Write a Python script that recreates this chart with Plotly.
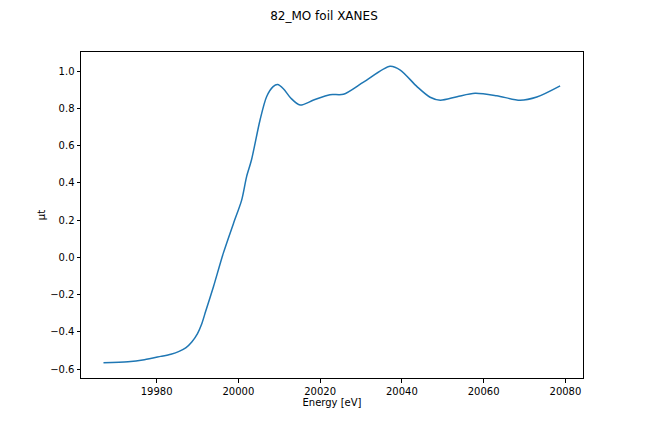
import plotly.graph_objects as go

energy = [19967.0, 19973.0, 19977.0, 19981.0, 19983.5, 19985.5, 19987.2, 19988.6, 19990.0,
          19991.0, 19992.0, 19993.9, 19996.3, 19998.8, 20000.8, 20002.0, 20003.2, 20005.3,
          20006.9, 20008.5, 20009.6, 20011.0, 20012.8, 20015.1, 20018.4, 20022.4,
          20025.7, 20030.6, 20037.1, 20039.6, 20043.7, 20046.9, 20049.4, 20053.5,
          20057.9, 20063.2, 20068.9, 20073.0, 20078.7]
mu_t = [-0.566, -0.561, -0.550, -0.532, -0.520, -0.505, -0.485, -0.455, -0.410,
        -0.360, -0.290, -0.158, 0.021, 0.182, 0.307, 0.432, 0.522, 0.737,
        0.862, 0.916, 0.927, 0.905, 0.855, 0.817, 0.844, 0.873,
        0.875, 0.940, 1.025, 1.005, 0.916, 0.859, 0.843, 0.862,
        0.880, 0.867, 0.843, 0.860, 0.920]

x_ticks = [19980, 20000, 20020, 20040, 20060, 20080]
y_ticks = [-0.6, -0.4, -0.2, 0.0, 0.2, 0.4, 0.6, 0.8, 1.0]

fig = go.Figure()
fig.add_trace(go.Scatter(x=energy, y=mu_t, mode="lines",
                         line=dict(color="#1f77b4", width=1.5, shape="spline", smoothing=0.8),
                         showlegend=False))

font = dict(family="DejaVu Sans", size=10, color="black")
axis_common = dict(showline=True, linecolor="black", linewidth=1, mirror=True,
                   ticks="outside", ticklen=3.5, tickcolor="black", tickwidth=1,
                   showgrid=False, zeroline=False, tickfont=font)

# page body has an 8px default margin; compensate so the plot lands where the reference has it
fig.update_layout(
    width=648, height=432,
    paper_bgcolor="white", plot_bgcolor="white",
    margin=dict(l=73, r=73, t=44, b=62),
    title=dict(text="82_MO foil XANES", x=(324 - 8) / 648, xanchor="center",
               y=1 - 8 / 432, yanchor="middle",
               font=dict(family="DejaVu Sans", size=12, color="black")),
    xaxis=dict(range=[19961.5, 20084.3], tickvals=x_ticks, tickformat="d",
               title=dict(text="Energy [eV]", font=font, standoff=3), **axis_common),
    yaxis=dict(range=[-0.648, 1.102], tickvals=y_ticks, tickformat=".1f",
               title=dict(text="μt", font=font, standoff=2), **axis_common),
)

fig.write_html("out.html")
